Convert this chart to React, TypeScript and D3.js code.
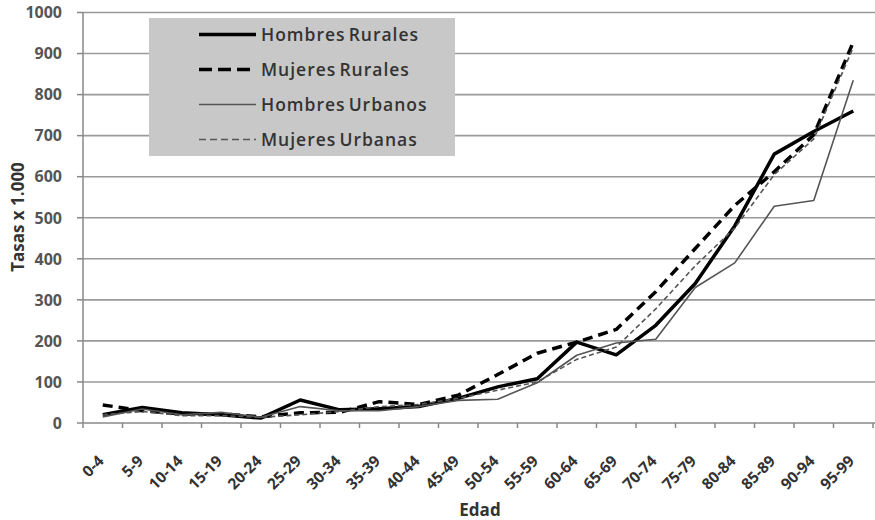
import React from "react";
import * as d3 from "d3";

const categories = ["0-4","5-9","10-14","15-19","20-24","25-29","30-34","35-39","40-44","45-49","50-54","55-59","60-64","65-69","70-74","75-79","80-84","85-89","90-94","95-99"];
const hombresRurales = [20,38,25,20,12,56,32,35,40,60,88,108,197,166,238,340,480,655,710,760];
const mujeresRurales = [44,30,22,22,15,25,26,52,45,68,118,170,197,228,320,425,530,612,702,928];
const hombresUrbanos = [15,34,20,26,14,40,30,30,40,55,58,98,165,195,204,330,390,528,542,835];
const mujeresUrbanas = [20,28,18,18,14,20,28,40,45,60,80,100,155,185,278,383,475,605,692,915];
const yTicks = [0,100,200,300,400,500,600,700,800,900,1000];

const series = [
  { name: "Hombres Rurales", values: hombresRurales, color: "#000", width: 3.5, dash: "", ldash: "" },
  { name: "Mujeres Rurales", values: mujeresRurales, color: "#000", width: 3.5, dash: "10,6", ldash: "13,6" },
  { name: "Hombres Urbanos", values: hombresUrbanos, color: "#555", width: 1.6, dash: "", ldash: "" },
  { name: "Mujeres Urbanas", values: mujeresUrbanas, color: "#555", width: 1.6, dash: "5,3", ldash: "7,4" },
];

export default function App() {
  const W = 875, H = 520;
  const left = 83, right = 873, top = 12.5, bottom = 423;
  const x = d3.scaleBand<string>().domain(categories).range([left, right]);
  const y = d3.scaleLinear().domain([0, 1000]).range([bottom, top]);
  const font = "'Open Sans', 'Noto Sans', sans-serif";
  const line = (vals: number[]) =>
    d3.line<number>().x((_, i) => (x(categories[i]) as number) + x.bandwidth() / 2).y((v) => y(v))(vals) as string;
  const boundaries = d3.range(categories.length + 1).map((i) => left + i * x.step());
  return (
    <svg width={W} height={H} style={{ position: "absolute", left: 0, top: 0, background: "#fff" }}>
      <rect width={W} height={H} fill="#fff" />
      {yTicks.map((t) => (
        <g key={t}>
          {t > 0 && <line x1={left} x2={right + 2} y1={y(t)} y2={y(t)} stroke="#9a9a9a" strokeWidth={1.6} />}
          <line x1={left - 6} x2={left} y1={y(t)} y2={y(t)} stroke="#888" strokeWidth={1.5} />
          <text x={62} y={y(t)} dy="0.36em" textAnchor="end" fontFamily={font} fontWeight={700} fontSize={16} fill="#555">{t}</text>
        </g>
      ))}
      <line x1={left} x2={left} y1={top} y2={bottom} stroke="#888" strokeWidth={1.5} />
      <line x1={left} x2={right + 2} y1={bottom} y2={bottom} stroke="#888" strokeWidth={1.5} />
      {boundaries.map((b, i) => (
        <line key={i} x1={b} x2={b} y1={bottom} y2={bottom + 5} stroke="#888" strokeWidth={1.5} />
      ))}
      {categories.map((c) => {
        const cx = (x(c) as number) + x.bandwidth() / 2 + 2;
        return (
          <text key={c} transform={`translate(${cx},${bottom + 39}) rotate(-45)`} textAnchor="end" fontFamily={font} fontWeight={700} fontSize={15.5} fill="#333">{c}</text>
        );
      })}
      <text x={(left + right) / 2 + 2} y={516} textAnchor="middle" fontFamily={font} fontWeight={700} fontSize={17} fill="#333">Edad</text>
      <text transform={`translate(24,${217}) rotate(-90)`} textAnchor="middle" fontFamily={font} fontWeight={700} fontSize={17} fill="#333">Tasas x 1.000</text>
      {series.map((s) => (
        <path key={s.name} d={line(s.values)} fill="none" stroke={s.color} strokeWidth={s.width} strokeDasharray={s.dash} strokeLinejoin="round" />
      ))}
      <rect x={149} y={18} width={306} height={138} fill="#c8c8c8" />
      {series.map((s, i) => {
        const ly = 34.5 + i * 35;
        return (
          <g key={s.name}>
            <line x1={199} x2={256} y1={ly} y2={ly} stroke={s.color} strokeWidth={s.width} strokeDasharray={s.ldash} />
            <text x={261} y={ly} dy="0.36em" fontFamily={font} fontWeight={600} fontSize={17.5} fill="#333" letterSpacing={1} wordSpacing={-2.5}>{s.name}</text>
          </g>
        );
      })}
    </svg>
  );
}
